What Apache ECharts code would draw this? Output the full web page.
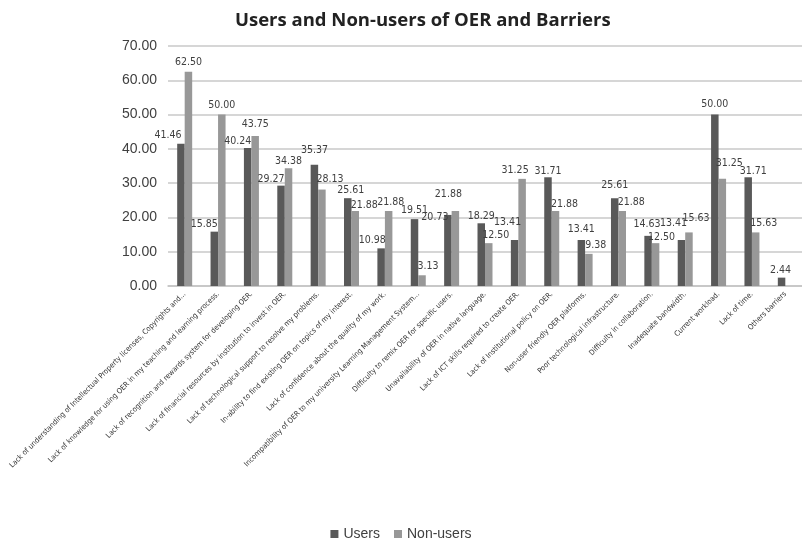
<!DOCTYPE html>
<html>
<head>
<meta charset="utf-8">
<script src="https://cdn.jsdelivr.net/npm/echarts@6/dist/echarts.min.js"></script>
<style>
html,body{margin:0;padding:0;background:#fff;}
#chart{width:802px;height:542px;}
</style>
</head>
<body>
<div id="chart"></div>
<script>
const categories = [
  "Lack of understanding of Intellectual Property licenses, Copyrights and...",
  "Lack of knowledge for using OER in my teaching and learning process.",
  "Lack of recognition and rewards system for developing OER.",
  "Lack of financial resources by institution to invest in OER.",
  "Lack of technological support to resolve my problems.",
  "In-ability to find existing OER on topics of my interest.",
  "Lack of confidence about the quality of my work.",
  "Incompatibility of OER to my university Learning Management System...",
  "Difficulty to remix OER for specific users.",
  "Unavailability of OER in native language.",
  "Lack of ICT skills required to create OER.",
  "Lack of Institutional policy on OER.",
  "Non-user friendly OER platforms.",
  "Poor technological infrastructure.",
  "Difficulty in collaboration.",
  "Inadequate bandwidth.",
  "Current workload.",
  "Lack of time.",
  "Others barriers"
];
const users = [41.46, 15.85, 40.24, 29.27, 35.37, 25.61, 10.98, 19.51, 20.73, 18.29, 13.41, 31.71, 13.41, 25.61, 14.63, 13.41, 50.00, 31.71, 2.44];
const nonUsers = [62.50, 50.00, 43.75, 34.38, 28.13, 21.88, 21.88, 3.13, 21.88, 12.50, 31.25, 21.88, 9.38, 21.88, 12.50, 15.63, 31.25, 15.63, null];
const yTicks = [0, 10, 20, 30, 40, 50, 60, 70];

// label nudges (style only, px): [dx, dy]
const usersLabelNudge = [[-13,0],[-10,1],[-10,2],[-10,2],[0,-6],[3,1],[-9,0],[0,0],[-13,11],[0,1],[-7,-9],[0,2],[0,-2],[0,-4],[-1,-3],[-8,-8],[0,-2],[5,2],[-1,1]];
const nonUsersLabelNudge = [[0,-1],[0,-1],[0,-3],[0,2],[8,-2],[9,3],[2,0],[6,-1],[-7,-8],[7,1],[-7,0],[9,2],[7,0],[9,0],[6,3],[7,-6],[7,-7],[8,-1],[0,0]];

const narrow = "'Liberation Sans Narrow', 'Arial Narrow', 'DejaVu Sans Condensed', sans-serif";

function build(values, nudges) {
  return values.map((v, i) => v == null ? '-' : ({ value: v, label: { offset: nudges[i] } }));
}

const chart = echarts.init(document.getElementById('chart'));
chart.setOption({
  animation: false,
  backgroundColor: '#fff',
  title: {
    text: 'Users and Non-users of OER and Barriers',
    left: 230, top: 6,
    textStyle: { fontFamily: "'Open Sans', sans-serif", fontWeight: 'bold', fontSize: 18.5, color: '#222' }
  },
  legend: {
    data: ['Users', 'Non-users'],
    left: 'center', top: 522,
    icon: 'rect', itemWidth: 8, itemHeight: 8, itemGap: 14,
    textStyle: { fontFamily: "'Liberation Sans', Arial, sans-serif", fontSize: 14, color: '#404040' }
  },
  grid: { left: 168, right: -8, top: 46, bottom: 256, containLabel: false },
  xAxis: {
    type: 'category',
    data: categories,
    axisLine: { lineStyle: { color: '#c4c4c4', width: 1.5 } },
    axisTick: { show: false },
    axisLabel: {
      interval: 0, rotate: 45, margin: 7,
      fontFamily: narrow, fontSize: 7.5, color: '#333'
    }
  },
  yAxis: {
    type: 'value',
    min: yTicks[0], max: yTicks[yTicks.length - 1], interval: 10,
    axisLine: { show: false },
    axisTick: { show: false },
    splitLine: { lineStyle: { color: '#c8c8c8', width: 1.5 } },
    axisLabel: {
      margin: 11,
      fontFamily: "'Liberation Sans', Arial, sans-serif", fontSize: 14, color: '#404040',
      formatter: v => v.toFixed(2)
    }
  },
  series: [
    {
      name: 'Users', type: 'bar', barWidth: 7.5, barGap: '0%',
      itemStyle: { color: '#595959' },
      label: { show: true, position: 'top', distance: 3, fontFamily: narrow, fontSize: 10.5, color: '#404040',
               formatter: p => Number(p.value).toFixed(2) },
      data: build(users, usersLabelNudge)
    },
    {
      name: 'Non-users', type: 'bar', barWidth: 7.5, barGap: '0%',
      itemStyle: { color: '#989898' },
      label: { show: true, position: 'top', distance: 3, fontFamily: narrow, fontSize: 10.5, color: '#404040',
               formatter: p => Number(p.value).toFixed(2) },
      data: build(nonUsers, nonUsersLabelNudge)
    }
  ]
});
</script>
</body>
</html>
